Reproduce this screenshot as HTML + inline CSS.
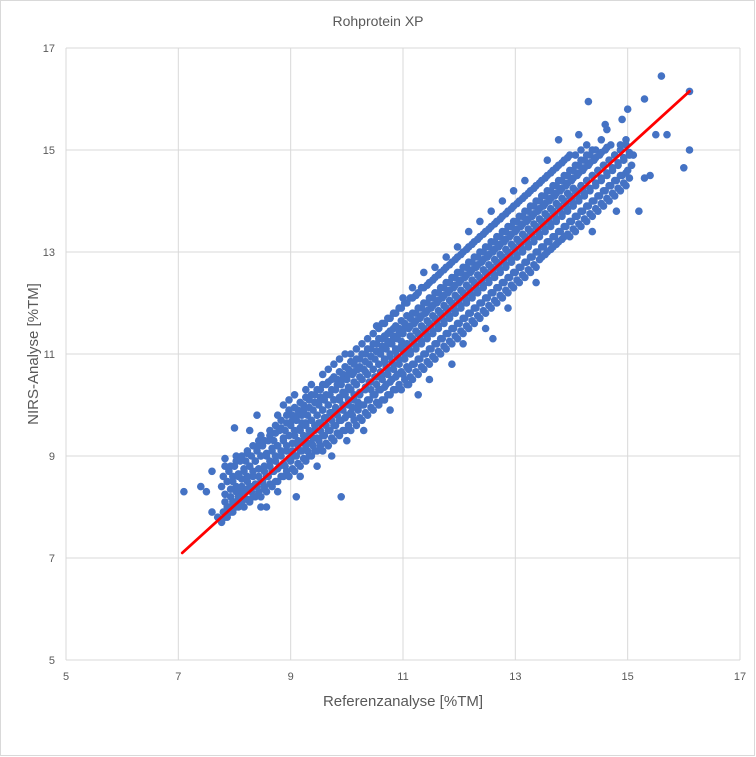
<!DOCTYPE html>
<html><head><meta charset="utf-8"><style>
html,body{margin:0;padding:0;background:#fff;}
svg{display:block;font-family:"Liberation Sans",sans-serif;}
</style></head><body>
<svg id="chart" width="756" height="757" viewBox="0 0 756 757" xmlns="http://www.w3.org/2000/svg">
<rect x="0.5" y="0.5" width="754" height="755" fill="#fff" stroke="#d9d9d9"/>
<text x="378" y="26" text-anchor="middle" font-size="14" fill="#595959">Rohprotein XP</text>
<g id="grid"></g>
<g id="ticks"></g>
<g id="points"></g>
<g id="trend"></g>
<text x="403" y="706" text-anchor="middle" font-size="15" fill="#595959">Referenzanalyse [%TM]</text>
<text transform="translate(38,354) rotate(-90)" text-anchor="middle" font-size="15" fill="#595959">NIRS-Analyse [%TM]</text>
</svg>
<script>
const xTicks = [5,7,9,11,13,15,17];
const yTicks = [5,7,9,11,13,15,17];
const columns = [7.8,7.9,8.0,8.1,8.2,8.3,8.4,8.5,8.6,8.7,8.8,8.9,9.0,9.1,9.2,9.3,9.4,9.5,9.6,9.7,9.8,9.9,10.0,10.1,10.2,10.3,10.4,10.5,10.6,10.7,10.8,10.9,11.0,11.1,11.2,11.3,11.4,11.5,11.6,11.7,11.8,11.9,12.0,12.1,12.2,12.3,12.4,12.5,12.6,12.7,12.8,12.9,13.0,13.1,13.2,13.3,13.4,13.5,13.6,13.7,13.8,13.9,14.0,14.1,14.2,14.3,14.4,14.5,14.6,14.7,14.8,14.9,15.0];
const nirs = [
[7.7,7.9,8.1,8.4,8.6,8.8],
[7.8,8.0,8.2,8.5,8.7],
[7.9,8.1,8.3,8.5,8.8,9.0],
[8.0,8.2,8.4,8.6,8.9,8.3],
[8.0,8.3,8.5,8.7,8.9,9.1],
[8.1,8.3,8.6,8.8,9.0,8.4,9.5],
[8.2,8.4,8.6,8.9,9.1,9.3],
[8.2,8.5,8.7,9.0,9.2,8.4,9.4],
[8.3,8.6,8.8,9.0,9.3,9.5,8.0],
[8.4,8.7,8.9,9.1,9.3,9.6],
[8.5,8.8,9.0,9.2,9.5,9.7,8.3],
[8.6,8.8,9.1,9.3,9.5,9.8,10.0],
[8.6,8.9,9.1,9.4,9.6,9.8,10.1],
[8.7,9.0,9.2,9.4,9.7,9.9,10.2,8.2],
[8.8,9.1,9.3,9.5,9.8,10.0,8.6,9.65],
[8.9,9.1,9.4,9.6,9.8,10.1,10.3,9.25],
[9.0,9.2,9.5,9.7,9.9,10.2,10.4,9.35],
[9.1,9.3,9.5,9.8,10.0,10.3,8.8,9.65,10.15],
[9.1,9.4,9.6,9.9,10.1,10.4,10.6,9.75],
[9.2,9.5,9.7,10.0,10.2,10.5,10.7,9.85],
[9.3,9.6,9.8,10.1,10.3,10.5,10.8,9.95],
[9.4,9.7,9.9,10.1,10.4,10.6,10.9,8.2,10.25],
[9.5,9.8,10.0,10.2,10.5,10.7,11.0,9.3,10.35],
[9.5,9.8,10.1,10.3,10.6,10.8,11.0,9.95,10.45],
[9.6,9.9,10.2,10.4,10.7,10.9,11.1,10.05,10.55],
[9.7,10.0,10.3,10.5,10.7,11.0,11.2,9.5,10.65],
[9.8,10.1,10.3,10.6,10.8,11.1,11.3,10.45,10.95],
[9.9,10.2,10.4,10.7,10.9,11.2,11.4,10.55,11.05],
[10.0,10.3,10.5,10.8,11.0,11.3,11.5,10.65,11.15],
[10.1,10.4,10.6,10.9,11.1,11.4,11.6,10.75,11.25],
[10.2,10.5,10.7,11.0,11.2,11.5,11.7,10.85,11.35,9.9],
[10.3,10.6,10.8,11.1,11.3,11.5,11.8,10.95,11.45],
[10.3,10.6,10.9,11.1,11.4,11.6,11.9,12.1,11.05,11.25],
[10.4,10.7,11.0,11.2,11.5,11.7,12.0,11.15,11.35],
[10.5,10.8,11.1,11.3,11.6,11.8,12.1,11.25,11.45,12.3],
[10.6,10.9,11.2,11.4,11.7,11.9,12.2,11.35,11.55,10.2],
[10.7,11.0,11.3,11.5,11.8,12.0,12.3,11.45,11.65,12.6],
[10.8,11.1,11.4,11.6,11.9,12.1,12.4,11.55,11.75,10.5],
[10.9,11.2,11.5,11.7,12.0,12.2,12.5,11.65,11.85,12.7],
[11.0,11.3,11.6,11.8,12.1,12.3,12.6,11.75,11.95],
[11.1,11.4,11.7,11.9,12.2,12.4,12.7,11.85,12.05,12.9],
[11.2,11.5,11.8,12.0,12.3,12.5,12.8,11.95,12.15,10.8],
[11.3,11.6,11.9,12.1,12.4,12.6,12.9,12.05,12.25,13.1],
[11.4,11.7,12.0,12.2,12.5,12.7,13.0,12.15,12.35,11.2],
[11.5,11.8,12.1,12.3,12.6,12.8,13.1,12.25,12.45,13.4],
[11.6,11.9,12.2,12.4,12.7,12.9,13.2,12.35,12.55],
[11.7,12.0,12.3,12.5,12.8,13.0,13.3,12.45,12.65,13.6],
[11.8,12.1,12.4,12.6,12.9,13.1,13.4,12.55,12.75,11.5],
[11.9,12.2,12.5,12.7,13.0,13.2,13.5,12.65,12.85,13.8],
[12.0,12.3,12.6,12.8,13.1,13.3,13.6,12.75,12.95],
[12.1,12.4,12.7,12.9,13.2,13.4,13.7,12.85,13.05,14.0],
[12.2,12.5,12.8,13.0,13.3,13.5,13.8,12.95,13.15,11.9],
[12.3,12.6,12.9,13.1,13.4,13.6,13.9,13.05,13.25,14.2],
[12.4,12.7,13.0,13.2,13.5,13.7,14.0,13.15,13.35],
[12.5,12.8,13.1,13.3,13.6,13.8,14.1,13.25,13.45,14.4],
[12.6,12.9,13.2,13.4,13.7,13.9,14.2,13.35,13.55],
[12.7,13.0,13.3,13.5,13.8,14.0,14.3,13.45,13.65,12.4],
[12.9,13.1,13.4,13.6,13.9,14.1,14.4,13.55,13.75],
[13.0,13.2,13.5,13.7,14.0,14.2,14.5,13.65,13.85,14.8],
[13.1,13.3,13.6,13.8,14.1,14.3,14.6,13.75,13.95],
[13.2,13.4,13.7,13.9,14.2,14.4,14.7,13.85,14.05,15.2],
[13.3,13.5,13.8,14.0,14.3,14.5,14.8,13.95,14.15],
[13.3,13.6,13.9,14.1,14.4,14.6,14.9,14.05,14.25],
[13.4,13.7,14.0,14.2,14.5,14.7,14.9,14.15,15.3],
[13.5,13.8,14.1,14.3,14.6,14.8,15.0,14.25],
[13.6,13.9,14.2,14.4,14.7,14.9,15.1],
[13.7,14.0,14.3,14.5,14.8,15.0,13.4],
[13.8,14.1,14.4,14.6,14.9,15.2],
[13.9,14.2,14.5,14.7,15.0,15.4],
[14.0,14.3,14.6,14.8,15.1],
[14.1,14.4,14.7,14.9,13.8],
[14.2,14.5,14.8,15.1,15.6],
[14.3,14.6,14.9,15.2],
[14.4,14.6,15.0,15.3]
];
const nirsB = [
[7.8,8.0,8.25,8.5,8.95],
[7.9,8.1,8.35,8.6,8.8],
[8.0,8.2,8.4,8.65,8.9],
[8.1,8.35,8.55,8.75,9.0],
[8.15,8.4,8.6,8.8,9.05],
[8.2,8.45,8.7,8.9,9.2],
[8.3,8.5,8.75,9.0,9.2,8.0],
[8.35,8.6,8.8,9.05,9.3],
[8.45,8.7,8.9,9.15,9.4],
[8.5,8.75,9.0,9.2,9.45,9.8],
[8.6,8.85,9.1,9.35,9.55],
[8.7,8.95,9.2,9.4,9.65,9.9],
[8.75,9.0,9.25,9.5,9.7,9.95],
[8.85,9.1,9.3,9.55,9.8,10.05],
[8.95,9.2,9.4,9.65,9.9,10.15],
[9.0,9.25,9.5,9.7,9.95,10.2],
[9.1,9.35,9.6,9.8,10.05,10.3],
[9.2,9.4,9.65,9.9,10.1,10.4],
[9.25,9.5,9.75,10.0,10.2,10.45],
[9.35,9.6,9.85,10.1,10.3,10.55,9.0],
[9.45,9.7,9.9,10.15,10.4,10.65],
[9.5,9.75,10.0,10.25,10.5,10.75],
[9.6,9.85,10.1,10.3,10.6,10.85],
[9.7,9.95,10.2,10.4,10.65,10.9],
[9.75,10.0,10.25,10.5,10.75,11.0],
[9.85,10.1,10.35,10.6,10.85,11.1],
[9.95,10.2,10.45,10.7,10.95,11.2],
[10.05,10.3,10.55,10.8,11.05,11.3,11.55],
[10.1,10.35,10.6,10.85,11.1,11.35,11.6],
[10.2,10.45,10.7,10.95,11.2,11.45,11.7],
[10.3,10.55,10.8,11.05,11.3,11.55,11.8],
[10.4,10.65,10.9,11.15,11.4,11.65,11.9],
[10.5,10.75,11.0,11.2,11.5,11.75,12.0],
[10.55,10.8,11.05,11.3,11.55,11.8,12.1],
[10.65,10.9,11.15,11.4,11.65,11.9,12.15],
[10.75,11.0,11.25,11.5,11.75,12.0,12.3],
[10.85,11.1,11.35,11.6,11.85,12.1,12.35],
[10.95,11.2,11.45,11.7,11.95,12.2,12.45],
[11.05,11.3,11.55,11.8,12.05,12.3,12.55],
[11.15,11.4,11.65,11.9,12.15,12.4,12.65],
[11.25,11.5,11.75,12.0,12.25,12.5,12.75],
[11.35,11.6,11.85,12.1,12.35,12.6,12.85],
[11.45,11.7,11.95,12.2,12.45,12.7,12.95],
[11.55,11.8,12.05,12.3,12.55,12.8,13.05],
[11.65,11.9,12.15,12.4,12.65,12.9,13.15],
[11.75,12.0,12.25,12.5,12.75,13.0,13.25],
[11.85,12.1,12.35,12.6,12.85,13.1,13.35],
[11.95,12.2,12.45,12.7,12.95,13.2,13.45],
[12.05,12.3,12.55,12.8,13.05,13.3,13.55],
[12.15,12.4,12.65,12.9,13.15,13.4,13.65],
[12.25,12.5,12.75,13.0,13.25,13.5,13.75],
[12.35,12.6,12.85,13.1,13.35,13.6,13.85],
[12.45,12.7,12.95,13.2,13.45,13.7,13.95],
[12.55,12.8,13.05,13.3,13.55,13.8,14.05],
[12.65,12.9,13.15,13.4,13.65,13.9,14.15],
[12.75,13.0,13.25,13.5,13.75,14.0,14.25],
[12.85,13.1,13.35,13.6,13.85,14.1,14.35],
[12.95,13.2,13.45,13.7,13.95,14.2,14.45],
[13.05,13.3,13.55,13.8,14.05,14.3,14.55],
[13.15,13.4,13.65,13.9,14.15,14.4,14.65],
[13.25,13.5,13.75,14.0,14.25,14.5,14.75],
[13.35,13.6,13.85,14.1,14.35,14.6,14.85],
[13.45,13.7,13.95,14.2,14.45,14.7],
[13.55,13.8,14.05,14.3,14.55,14.8],
[13.65,13.9,14.15,14.4,14.65,14.9],
[13.75,14.0,14.25,14.5,14.75,15.0],
[13.85,14.1,14.35,14.6,14.85],
[13.95,14.2,14.45,14.7,14.95],
[14.05,14.3,14.55,14.8,15.05],
[14.15,14.4,14.65,14.9],
[14.25,14.5,14.75,15.0],
[14.35,14.55,14.85,15.1],
[14.45,14.7,14.95],
[14.55,14.8,15.2]
];
const outlierRef = [7.1,7.4,7.5,7.6,7.6,7.7,8.0,8.4,15.6,16.1,16.1,16.0,14.3,15.0,15.3,15.5,15.7,15.2,15.4,15.1,15.3,14.6,11.1,12.6];
const outlierNirs = [8.3,8.4,8.3,8.7,7.9,7.8,9.55,9.8,16.45,16.15,15.0,14.65,15.95,15.8,16.0,15.3,15.3,13.8,14.5,14.9,14.45,15.5,10.4,11.3];
const trendRef = [7.07,16.1];
const trendNirs = [7.1,16.15];

const NS = "http://www.w3.org/2000/svg";
const L=66,R=740,T=48,B=660,MIN=5,MAX=17;
const sx = v => L + (v-MIN)/(MAX-MIN)*(R-L);
const sy = v => B - (v-MIN)/(MAX-MIN)*(B-T);
function mk(tag, attrs, parent){const e=document.createElementNS(NS,tag);for(const k in attrs)e.setAttribute(k,attrs[k]);parent.appendChild(e);return e;}
const grid=document.getElementById('grid'), ticks=document.getElementById('ticks');
xTicks.forEach(t=>{
  const ln=mk('line',{x1:sx(t),x2:sx(t),y1:T,y2:B,stroke:'#d9d9d9','stroke-width':1},grid);
  
  
  const tx=mk('text',{x:sx(t),y:B+20,'text-anchor':'middle','font-size':11,fill:'#595959'},ticks);
  tx.textContent=t;
  
  
});
yTicks.forEach(t=>{
  const ln=mk('line',{x1:L,x2:R,y1:sy(t),y2:sy(t),stroke:'#d9d9d9','stroke-width':1},grid);
  
  
  const tx=mk('text',{x:L-11,y:sy(t)+4,'text-anchor':'end','font-size':11,fill:'#595959'},ticks);
  tx.textContent=t;
  
  
});
const pts=document.getElementById('points');
function dot(x,y){
  const c=mk('circle',{cx:sx(x).toFixed(1),cy:sy(y).toFixed(1),r:3.8,fill:'#4472c4'},pts);
  
  
}
columns.forEach((x,i)=>{
  nirs[i].forEach((y,j)=>{
    dot(x + ((j%3)-1)*0.03, y);
  });
  (nirsB[i]||[]).forEach((y,j)=>{
    dot(x + 0.05 + ((j%2)?0.02:-0.02), y);
  });
});
outlierRef.forEach((x,i)=>dot(x,outlierNirs[i]));
const tl=mk('line',{x1:sx(trendRef[0]),y1:sy(trendNirs[0]),x2:sx(trendRef[1]),y2:sy(trendNirs[1]),stroke:'#ff0000','stroke-width':2.8,'stroke-linecap':'round'},document.getElementById('trend'));


</script>
</body></html>
